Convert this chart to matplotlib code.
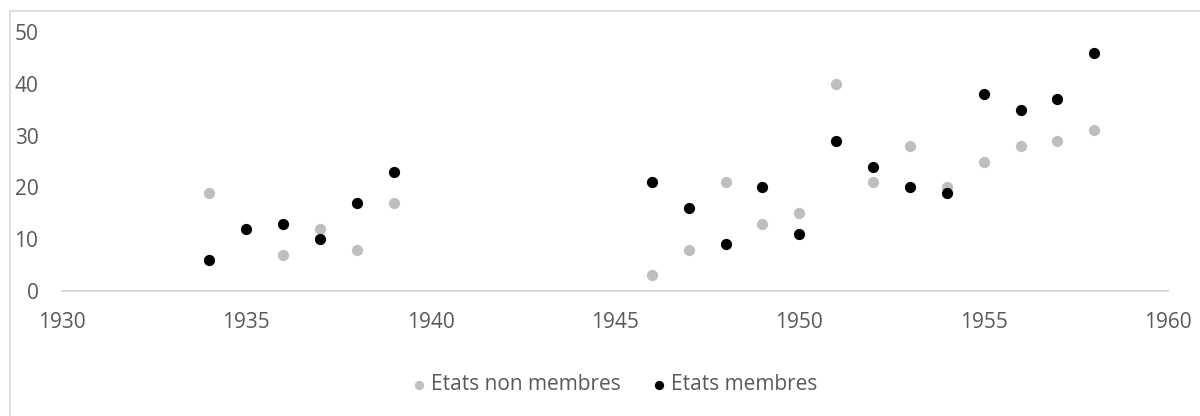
import matplotlib.pyplot as plt
from matplotlib.lines import Line2D

plt.rcParams['font.family'] = ['Open Sans', 'DejaVu Sans']

years_non = [1934, 1936, 1937, 1938, 1939,
             1946, 1947, 1948, 1949, 1950, 1951, 1952, 1953, 1954, 1955, 1956, 1957, 1958]
non_membres = [19, 7, 12, 8, 17,
               3, 8, 21, 13, 15, 40, 21, 28, 20, 25, 28, 29, 31]

years_mem = [1934, 1935, 1936, 1937, 1938, 1939,
             1946, 1947, 1948, 1949, 1950, 1951, 1952, 1953, 1954, 1955, 1956, 1957, 1958]
membres = [6, 12, 13, 10, 17, 23,
           21, 16, 9, 20, 11, 29, 24, 20, 19, 38, 35, 37, 46]

x_ticks = [1930, 1935, 1940, 1945, 1950, 1955, 1960]
y_ticks = [0, 10, 20, 30, 40, 50]

W, H = 1200, 416
fig = plt.figure(figsize=(W / 100, H / 100), dpi=100)
ax = fig.add_axes([62 / W, 1 - 291 / H, (1168 - 62) / W, (291 - 32) / H])

txt = '#595959'
ax.scatter(years_non, non_membres, s=50, color='#bfbfbf', label='Etats non membres', zorder=3)
ax.scatter(years_mem, membres, s=50, color='black', label='Etats membres', zorder=4)

ax.set_xlim(1930, 1960)
ax.set_ylim(0, 50)
ax.set_xticks(x_ticks)
ax.set_yticks(y_ticks)
ax.tick_params(length=0, labelsize=15, colors=txt)
ax.tick_params(axis='x', pad=15)
ax.tick_params(axis='y', pad=17)
for s in ['top', 'right', 'left']:
    ax.spines[s].set_visible(False)
ax.spines['bottom'].set_color('#d9d9d9')
ax.spines['bottom'].set_linewidth(1.5)

leg = fig.legend(loc='center', bbox_to_anchor=(614 / W, 1 - 385 / H), ncol=2, frameon=False,
                 fontsize=15, handletextpad=0.2, columnspacing=1.4, handlelength=0.8,
                 markerscale=0.8)
for t in leg.get_texts():
    t.set_color(txt)

# chart frame: only the left and top edges fall inside the picture
bx, by = 9.5 / W, 1 - 11 / H
fig.lines.append(Line2D([bx, bx], [0, by], transform=fig.transFigure, color='#d9d9d9', lw=1.2))
fig.lines.append(Line2D([bx, 1], [by, by], transform=fig.transFigure, color='#d9d9d9', lw=1.2))

fig.savefig('out.png', dpi=100)
